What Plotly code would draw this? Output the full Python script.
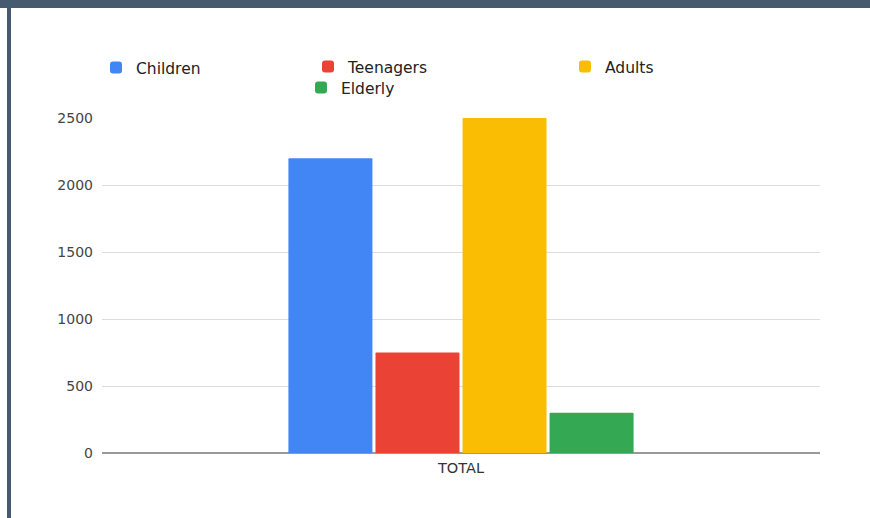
import plotly.graph_objects as go

categories = ["TOTAL"]
series_names = ["Children", "Teenagers", "Adults", "Elderly"]
children = [2200]
teenagers = [750]
adults = [2500]
elderly = [300]
y_ticks = [0, 500, 1000, 1500, 2000, 2500]

colors = ["#4285F4", "#EA4335", "#FBBC04", "#34A853"]
values = [children, teenagers, adults, elderly]
legend_ids = ["legend", "legend2", "legend3", "legend4"]

W, H = 870, 518
L, R, T, B = 102, 50, 118, 65
PW, PH = W - L - R, H - T - B

fig = go.Figure()
for name, vals, col, lg in zip(series_names, values, colors, legend_ids):
    fig.add_trace(go.Bar(x=categories, y=vals, name=name, marker_color=col,
                         marker_line_width=0, legend=lg))

# legend positions (text start - 26, center y) in pixels
leg_pos = [(110, 68), (322, 67), (579, 67), (315, 88)]
leg_font = dict(family="DejaVu Sans", size=15.5, color="#222")
legends = {}
for lg, (px, py) in zip(legend_ids, leg_pos):
    legends[lg] = dict(xref="container", yref="container",
                       x=(px - 14) / W, y=1 - py / H,
                       xanchor="left", yanchor="middle",
                       bgcolor="rgba(0,0,0,0)", font=leg_font,
                       borderwidth=0)

fig.update_layout(
    width=W, height=H,
    margin=dict(l=L, r=R, t=T, b=B, autoexpand=False),
    paper_bgcolor="white", plot_bgcolor="white",
    barmode="group", bargap=0.515, bargroupgap=0.035,
    barcornerradius=1,
    showlegend=True,
    **legends,
    xaxis=dict(showgrid=False, ticks="", ticklabelstandoff=4,
               tickfont=dict(family="DejaVu Sans", size=14.5, color="#333"),
               showline=False, zeroline=False),
    yaxis=dict(range=[0, 2500], tickvals=y_ticks, ticktext=[str(v) for v in y_ticks],
               showgrid=True, gridcolor="#dddddd", gridwidth=1,
               zeroline=True, zerolinecolor="#999999", zerolinewidth=2,
               ticks="", ticklabelstandoff=8,
               tickfont=dict(family="DejaVu Sans", size=14, color="#444"),
               showline=False),
    shapes=[
        dict(type="rect", xref="paper", yref="paper",
             x0=-L / PW, x1=(W - L) / PW,
             y0=(H - B - 8) / PH, y1=(H - B) / PH,
             fillcolor="#465a70", line_width=0, layer="above"),
        dict(type="rect", xref="paper", yref="paper",
             x0=(7 - L) / PW, x1=(11 - L) / PW,
             y0=-B / PH, y1=(H - B) / PH,
             fillcolor="#465a70", line_width=0, layer="above"),
    ],
)

fig.write_html("out.html", config={"displayModeBar": False},
               post_script="document.body.style.margin='0';")
